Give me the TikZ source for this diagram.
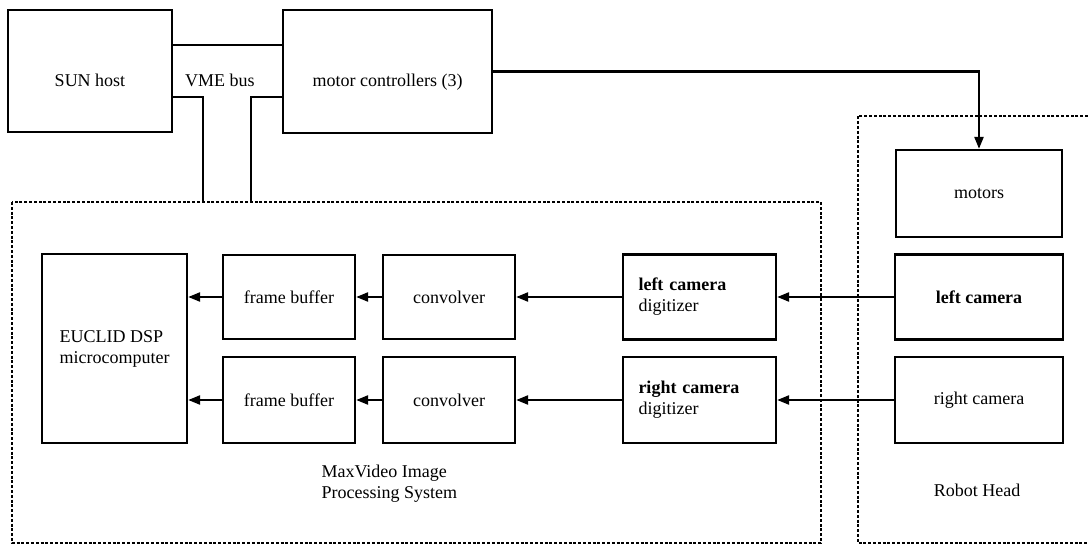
\documentclass[tikz,border=0pt]{standalone}
\usepackage{fontspec}
\setmainfont{Liberation Serif}
\usetikzlibrary{arrows.meta}
\begin{document}
\begin{tikzpicture}[x=1pt,y=-1pt,
  box/.style={draw, line width=2.3pt, inner sep=0pt, align=center},
  dotbox/.style={draw, line width=2.3pt, dash pattern=on 3pt off 1.8pt},
  wire/.style={line width=2.3pt},
  flow/.style={wire, -{Triangle[length=12pt,width=9pt]}},
  lowtext/.style={text height=30pt, text depth=0pt},
  font=\fontsize{18}{21}\selectfont]
\useasboundingbox (0,0) rectangle (1088,546);

% host side
\node[box, lowtext, minimum width=164pt, minimum height=122pt] (sun) at (90,71) {SUN host};
\node[box, lowtext, minimum width=209pt, minimum height=123pt] (mc) at (387.5,71.5) {motor controllers (3)};
\node (vme) at (220,80) {VME bus};

% VME bus outline
\coordinate (busT) at (0,45);
\coordinate (busB) at (0,97);
\coordinate (busL) at (203,202);
\coordinate (busR) at (251,202);
\draw[wire] (sun.east |- busT) -- (mc.west |- busT);
\draw[wire] (sun.east |- busB) -| (busL);
\draw[wire] (mc.west |- busB) -| (busR);

% image processing system
\draw[dotbox] (12,202) rectangle (821,543);
\node[box, align=left, minimum width=145pt, minimum height=189pt] (eu) at (114.5,348.5) {EUCLID DSP\\microcomputer};
\node[box, minimum width=132pt, minimum height=84pt] (fb1) at (289,297) {frame buffer};
\node[box, minimum width=132pt, minimum height=86pt] (fb2) at (289,400) {frame buffer};
\node[box, minimum width=132pt, minimum height=84pt] (cv1) at (449,297) {convolver};
\node[box, minimum width=132pt, minimum height=86pt] (cv2) at (449,400) {convolver};
\node[box, align=left, text width=122pt, minimum width=153pt, minimum height=85pt] (ld) at (699.5,297) {\textbf{left camera}\\digitizer};
\node[box, align=left, text width=122pt, minimum width=153pt, minimum height=86pt] (rd) at (699.5,400) {\textbf{right camera}\\digitizer};
\node[anchor=west, align=left] (mvcap) at (318,484) {MaxVideo Image\\Processing System};

% robot head
\draw[dotbox] (1088,116) -| (858,543) -- (1088,543);
\node[box, minimum width=166pt, minimum height=87pt] (mot) at (979,193.5) {motors};
\node[box, minimum width=168pt, minimum height=85pt] (lc) at (979,297) {\textbf{left camera}};
\node[box, minimum width=168pt, minimum height=86pt] (rc) at (979,400) {right camera};
\node (rhcap) at (977,490) {Robot Head};

% signal paths
\draw[flow] (mc.east) -| (mot.north);
\draw[flow] (lc.west) -- (ld.east);
\draw[flow] (rc.west) -- (rd.east);
\draw[flow] (ld.west) -- (cv1.east);
\draw[flow] (rd.west) -- (cv2.east);
\draw[flow] (cv1.west) -- (fb1.east);
\draw[flow] (cv2.west) -- (fb2.east);
\draw[flow] (fb1.west) -- (eu.east |- fb1.west);
\draw[flow] (fb2.west) -- (eu.east |- fb2.west);
\end{tikzpicture}
\end{document}
